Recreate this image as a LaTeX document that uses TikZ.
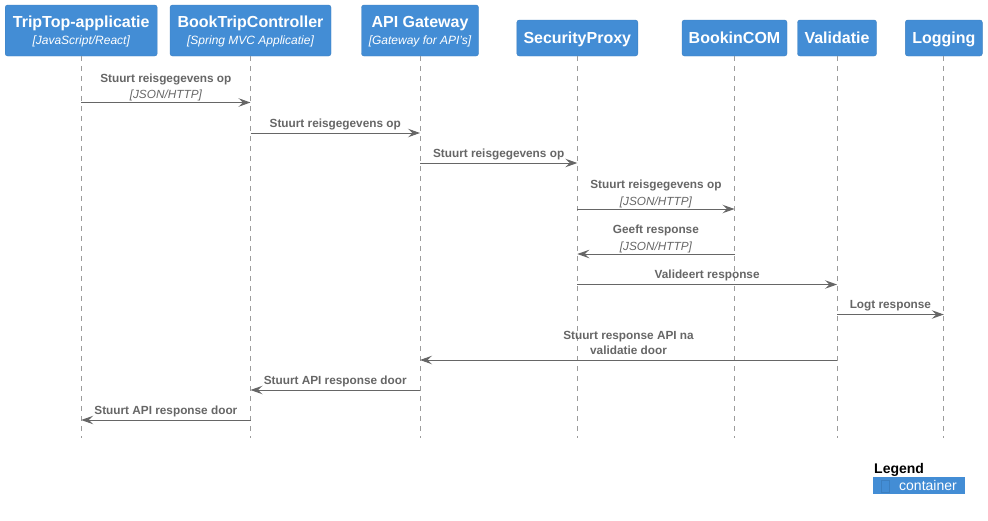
\documentclass[tikz,border=0pt]{standalone}
\usepackage{fontspec}
\setmainfont{Liberation Sans}
\usetikzlibrary{arrows.meta}
\definecolor{container}{HTML}{438DD5}
\definecolor{container border}{HTML}{3C7FC0}
\definecolor{message gray}{HTML}{666666}
\definecolor{lifeline gray}{HTML}{9C9C9C}
% technology line under a participant name
\newcommand*\technology[1]{{\fontsize{12}{17}\selectfont\mdseries\itshape[#1]}}
% protocol line under a message
\newcommand*\protocol[1]{\raisebox{-2pt}{\mdseries\itshape[#1]}}

\begin{document}
\begin{tikzpicture}
    [%
        x=1pt,%
        y=-1pt,%
        participant/.style={%
            draw=container border,%
            fill=container,%
            rounded corners=2.5pt,%
            text=white,%
            align=center,%
            inner sep=0pt,%
            text depth=-4.5pt,%
            font=\fontsize{16}{17}\selectfont\bfseries%
        },%
        lifeline/.style={%
            draw=lifeline gray,%
            dash pattern=on 5pt off 5pt,%
            line width=0.8pt%
        },%
        message/.style={%
            draw=message gray,%
            line width=1pt,%
            -{Stealth[length=12pt,width=8.5pt,inset=4.5pt]}%
        },%
        message label/.style={%
            midway,%
            above=5.5pt,%
            text=message gray,%
            align=center,%
            inner sep=0pt,%
            text depth=0pt,%
            font=\fontsize{11.8}{14.5}\selectfont\bfseries%
        }%
    ]%
%
    \useasboundingbox (0,0) rectangle (988,520);
%
    % place the participants
    % \name node name
    % \x/\y centre of the box
    % \w/\h size of the box
    % \boxtext text in the box
    \foreach \name/\x/\y/\w/\h/\boxtext in {%
        trip/81.2/30.5/152/51/{TripTop-applicatie\\\technology{JavaScript/React}},%
        ctrl/250.5/30.5/161/51/{BookTripController\\\technology{Spring MVC Applicatie}},%
        gateway/420/30.5/117/51/{API Gateway\\\technology{Gateway for API's}},%
        proxy/577.3/38/121/36/{SecurityProxy},%
        bookincom/734.5/38/105/36/{BookinCOM},%
        validatie/837/38/79/36/{Validatie},%
        logging/943.8/38/77/36/{Logging}%
    }
        \node[participant, minimum width=\w pt, minimum height=\h pt] (\name) at (\x,\y) {\boxtext};
%
    % lifelines down to the end of the sequence
    \coordinate (lifeline-end) at (0,438);
    \foreach \name in {trip,ctrl,gateway,proxy,bookincom,validatie,logging}
        \draw[lifeline] (\name) -- (\name |- lifeline-end);
%
    % messages between the lifelines
    % \from/\to sending and receiving participant
    % \y height of the arrow
    % \msgtext label above the arrow
    \foreach \from/\to/\y/\msgtext [count=\i] in {%
        trip/ctrl/102.5/{Stuurt reisgegevens op\\\protocol{JSON/HTTP}},%
        ctrl/gateway/133/{Stuurt reisgegevens op},%
        gateway/proxy/163/{Stuurt reisgegevens op},%
        proxy/bookincom/209/{Stuurt reisgegevens op\\\protocol{JSON/HTTP}},%
        bookincom/proxy/254/{Geeft response\\\protocol{JSON/HTTP}},%
        proxy/validatie/284.5/{Valideert response},%
        validatie/logging/314.5/{Logt response},%
        validatie/gateway/360/{Stuurt response API na\\validatie door},%
        gateway/ctrl/390/{Stuurt API response door},%
        ctrl/trip/420/{Stuurt API response door}%
    }
        \draw[message] (\from |- 0,\y) -- node[message label] (message-\i) {\msgtext} (\to |- 0,\y);
    % \foreach \from/\to
%
    % legend
    \node[anchor=base west, inner sep=0pt, font=\fontsize{14}{14}\selectfont\bfseries] (legend) at (874,473) {Legend};
    \node[fill=container, minimum width=92pt, minimum height=17pt, inner sep=0pt] (legend-container) at (919,485.5) {};
    \node[draw=container border, line width=0.8pt, minimum width=8pt, minimum height=12.5pt, inner sep=0pt] (legend-icon) at (885,486.3) {};
    \node[anchor=base west, inner sep=0pt, text=white, font=\fontsize{14}{14}\selectfont] (legend-label) at (899,490.5) {container};
\end{tikzpicture}
\end{document}
